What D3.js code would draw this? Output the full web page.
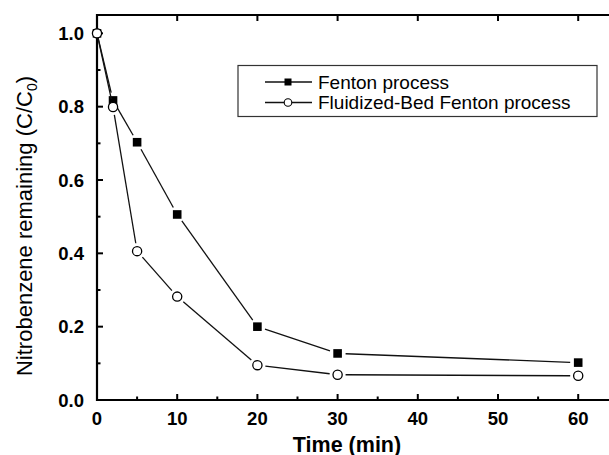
<!DOCTYPE html>
<html><head><meta charset="utf-8">
<script src="https://cdn.jsdelivr.net/npm/d3@7"></script>
<style>
html,body{margin:0;padding:0;background:#fff;}
svg{display:block;font-family:"Liberation Sans",Arial,sans-serif;}
</style></head>
<body><div id="chart"></div>
<script>
const times = [0, 2, 5, 10, 20, 30, 60];
const fenton = [1.0, 0.817, 0.703, 0.506, 0.200, 0.127, 0.102];
const fluidized = [1.0, 0.799, 0.406, 0.282, 0.095, 0.069, 0.066];
const seriesNames = ["Fenton process", "Fluidized-Bed Fenton process"];
const xTicks = [0, 10, 20, 30, 40, 50, 60];
const yTicks = [0.0, 0.2, 0.4, 0.6, 0.8, 1.0];

const W = 609, H = 455;
const svg = d3.select("#chart").append("svg").attr("width", W).attr("height", H);

const x = d3.scaleLinear().domain([0, 65]).range([97, 97 + 65 * 8.02]);
const y = d3.scaleLinear().domain([0, 1.05]).range([400, 15]);

const axisG = svg.append("g");
axisG.append("line").attr("x1", x(0)).attr("x2", W + 5).attr("y1", y(0)).attr("y2", y(0)).attr("stroke", "#000").attr("stroke-width", 2.2);
axisG.append("line").attr("x1", x(0)).attr("x2", W + 5).attr("y1", y(1.05)).attr("y2", y(1.05)).attr("stroke", "#000").attr("stroke-width", 2.2);
axisG.append("line").attr("x1", x(0)).attr("x2", x(0)).attr("y1", y(0) + 1.1).attr("y2", y(1.05) - 1.1).attr("stroke", "#000").attr("stroke-width", 2.2);

const xMinor = d3.range(5, 65, 10);
xTicks.forEach(t => {
  axisG.append("line").attr("x1", x(t)).attr("x2", x(t)).attr("y1", y(0)).attr("y2", y(0) - 6).attr("stroke", "#000").attr("stroke-width", 2);
  axisG.append("line").attr("x1", x(t)).attr("x2", x(t)).attr("y1", y(1.05)).attr("y2", y(1.05) + 6).attr("stroke", "#000").attr("stroke-width", 2);
  axisG.append("text").attr("x", x(t)).attr("y", 425).attr("text-anchor", "middle")
    .attr("font-size", 18.5).attr("font-weight", "bold").text(d3.format("d")(t));
});
xMinor.forEach(t => {
  axisG.append("line").attr("x1", x(t)).attr("x2", x(t)).attr("y1", y(0)).attr("y2", y(0) - 3.5).attr("stroke", "#000").attr("stroke-width", 2);
});
const yMinor = d3.range(0.1, 1.05, 0.2);
yTicks.forEach(v => {
  axisG.append("line").attr("x1", x(0)).attr("x2", x(0) + 6).attr("y1", y(v)).attr("y2", y(v)).attr("stroke", "#000").attr("stroke-width", 2);
  axisG.append("text").attr("x", 84).attr("y", y(v) + 6.5).attr("text-anchor", "end")
    .attr("font-size", 18.5).attr("font-weight", "bold").text(d3.format(".1f")(v));
});
yMinor.forEach(v => {
  axisG.append("line").attr("x1", x(0)).attr("x2", x(0) + 3.5).attr("y1", y(v)).attr("y2", y(v)).attr("stroke", "#000").attr("stroke-width", 2);
});

svg.append("text").attr("x", 347).attr("y", 451.5).attr("text-anchor", "middle")
  .attr("font-size", 21.5).attr("font-weight", "bold").text("Time (min)");
const yl = svg.append("text").attr("transform", "translate(32,226) rotate(-90)").attr("text-anchor", "middle")
  .attr("font-size", 22);
yl.append("tspan").text("Nitrobenzene remaining (C/C");
yl.append("tspan").attr("font-size", 14).attr("dy", 5).text("0");
yl.append("tspan").attr("dy", -5).text(")");

function drawSeries(vals, type) {
  const pts = times.map((t, i) => [x(t), y(vals[i])]);
  const gap = 8;
  const g = svg.append("g");
  for (let i = 0; i < pts.length - 1; i++) {
    const [x1, y1] = pts[i], [x2, y2] = pts[i + 1];
    const dx = x2 - x1, dy = y2 - y1, L = Math.hypot(dx, dy);
    if (L <= 2 * gap) continue;
    const ux = dx / L, uy = dy / L;
    const g0 = i === 0 ? 0 : gap;
    g.append("line").attr("x1", x1 + ux * g0).attr("y1", y1 + uy * g0)
      .attr("x2", x2 - ux * gap).attr("y2", y2 - uy * gap)
      .attr("stroke", "#111").attr("stroke-width", 1.3);
  }
  pts.forEach(([px, py]) => {
    if (type === "square") {
      g.append("rect").attr("x", px - 4.3).attr("y", py - 4.3).attr("width", 8.6).attr("height", 8.6).attr("fill", "#000");
    } else {
      g.append("circle").attr("cx", px).attr("cy", py).attr("r", 4.6).attr("fill", "#fff").attr("stroke", "#000").attr("stroke-width", 1.3);
    }
  });
}
drawSeries(fenton, "square");
drawSeries(fluidized, "circle");

const lg = svg.append("g");
lg.append("rect").attr("x", 238).attr("y", 65.5).attr("width", 359).attr("height", 51).attr("fill", "#fff").attr("stroke", "#333").attr("stroke-width", 1.2);
const rows = [82, 102.5];
seriesNames.forEach((name, i) => {
  const yy = rows[i];
  lg.append("line").attr("x1", 265).attr("x2", 312).attr("y1", yy).attr("y2", yy).attr("stroke", "#111").attr("stroke-width", 1.3);
  if (i === 0) lg.append("rect").attr("x", 284.5).attr("y", yy - 3.5).attr("width", 7).attr("height", 7).attr("fill", "#000");
  else lg.append("circle").attr("cx", 288).attr("cy", yy).attr("r", 3.8).attr("fill", "#fff").attr("stroke", "#000").attr("stroke-width", 1.1);
  lg.append("text").attr("x", 318).attr("y", yy + 6.5).attr("font-size", 19).text(name);
});
</script></body></html>
